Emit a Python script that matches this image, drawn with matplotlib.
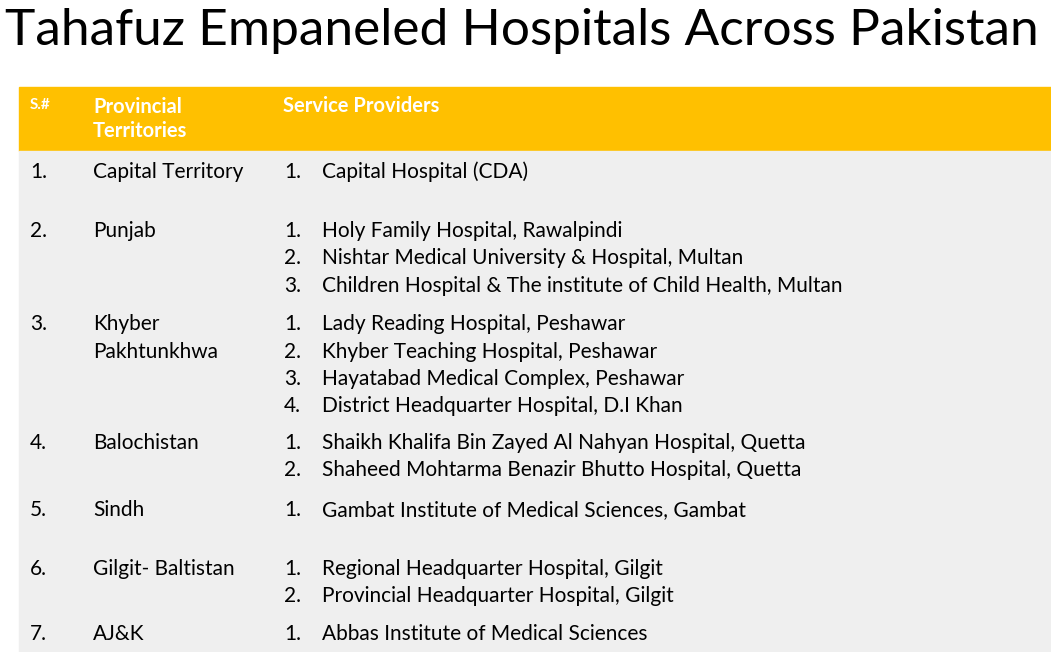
import matplotlib.pyplot as plt
from matplotlib.patches import Rectangle

W, H = 1051, 652

title = "Tahafuz Empaneled Hospitals Across Pakistan"
headers = ["S.#", "Provincial\nTerritories", "Service Providers"]
serials = ["1.", "2.", "3.", "4.", "5.", "6.", "7."]
territories = ["Capital Territory", "Punjab", "Khyber\nPakhtunkhwa", "Balochistan",
               "Sindh", "Gilgit- Baltistan", "AJ&K"]
providers = [
    ["Capital Hospital (CDA)"],
    ["Holy Family Hospital, Rawalpindi",
     "Nishtar Medical University & Hospital, Multan",
     "Children Hospital & The institute of Child Health, Multan"],
    ["Lady Reading Hospital, Peshawar",
     "Khyber Teaching Hospital, Peshawar",
     "Hayatabad Medical Complex, Peshawar",
     "District Headquarter Hospital, D.I Khan"],
    ["Shaikh Khalifa Bin Zayed Al Nahyan Hospital, Quetta",
     "Shaheed Mohtarma Benazir Bhutto Hospital, Quetta"],
    ["Gambat Institute of Medical Sciences, Gambat"],
    ["Regional Headquarter Hospital, Gilgit",
     "Provincial Headquarter Hospital, Gilgit"],
    ["Abbas Institute of Medical Sciences"],
]
row_tops = [172, 231, 324, 443, 510, 569, 634]

fig = plt.figure(figsize=(W / 100, H / 100), dpi=100)
ax = fig.add_axes([0, 0, 1, 1])
ax.set_xlim(0, W)
ax.set_ylim(H, 0)
ax.axis("off")

FONT = "Lato"
ax.add_patch(Rectangle((19, 87), W - 19, 64, color="#FFC000"))
ax.add_patch(Rectangle((19, 151), W - 19, H - 151, color="#EFEFEF"))

ax.text(5, 31, title, fontsize=37, family=FONT, fontweight="normal", va="center", ha="left")

ax.text(30, 105, headers[0], fontsize=11, family=FONT, fontweight="bold", color="white", va="center")
ax.text(93, 119, headers[1], fontsize=14.5, family=FONT, fontweight="bold", color="white",
        va="center", linespacing=1.3)
ax.text(283, 106, headers[2], fontsize=14.5, family=FONT, fontweight="bold", color="white", va="center")

step = 27.5
fs = 15
for y0, s, t, items in zip(row_tops, serials, territories, providers):
    ax.text(30, y0, s, fontsize=fs, family=FONT, va="center")
    for k, part in enumerate(t.split("\n")):
        ax.text(93, y0 + k * step, part, fontsize=fs, family=FONT, va="center")
    for j, item in enumerate(items):
        ax.text(284, y0 + j * step, f"{j + 1}.", fontsize=fs, family=FONT, va="center")
        ax.text(322, y0 + j * step, item, fontsize=fs, family=FONT, va="center")

fig.savefig("out.png", dpi=100)
